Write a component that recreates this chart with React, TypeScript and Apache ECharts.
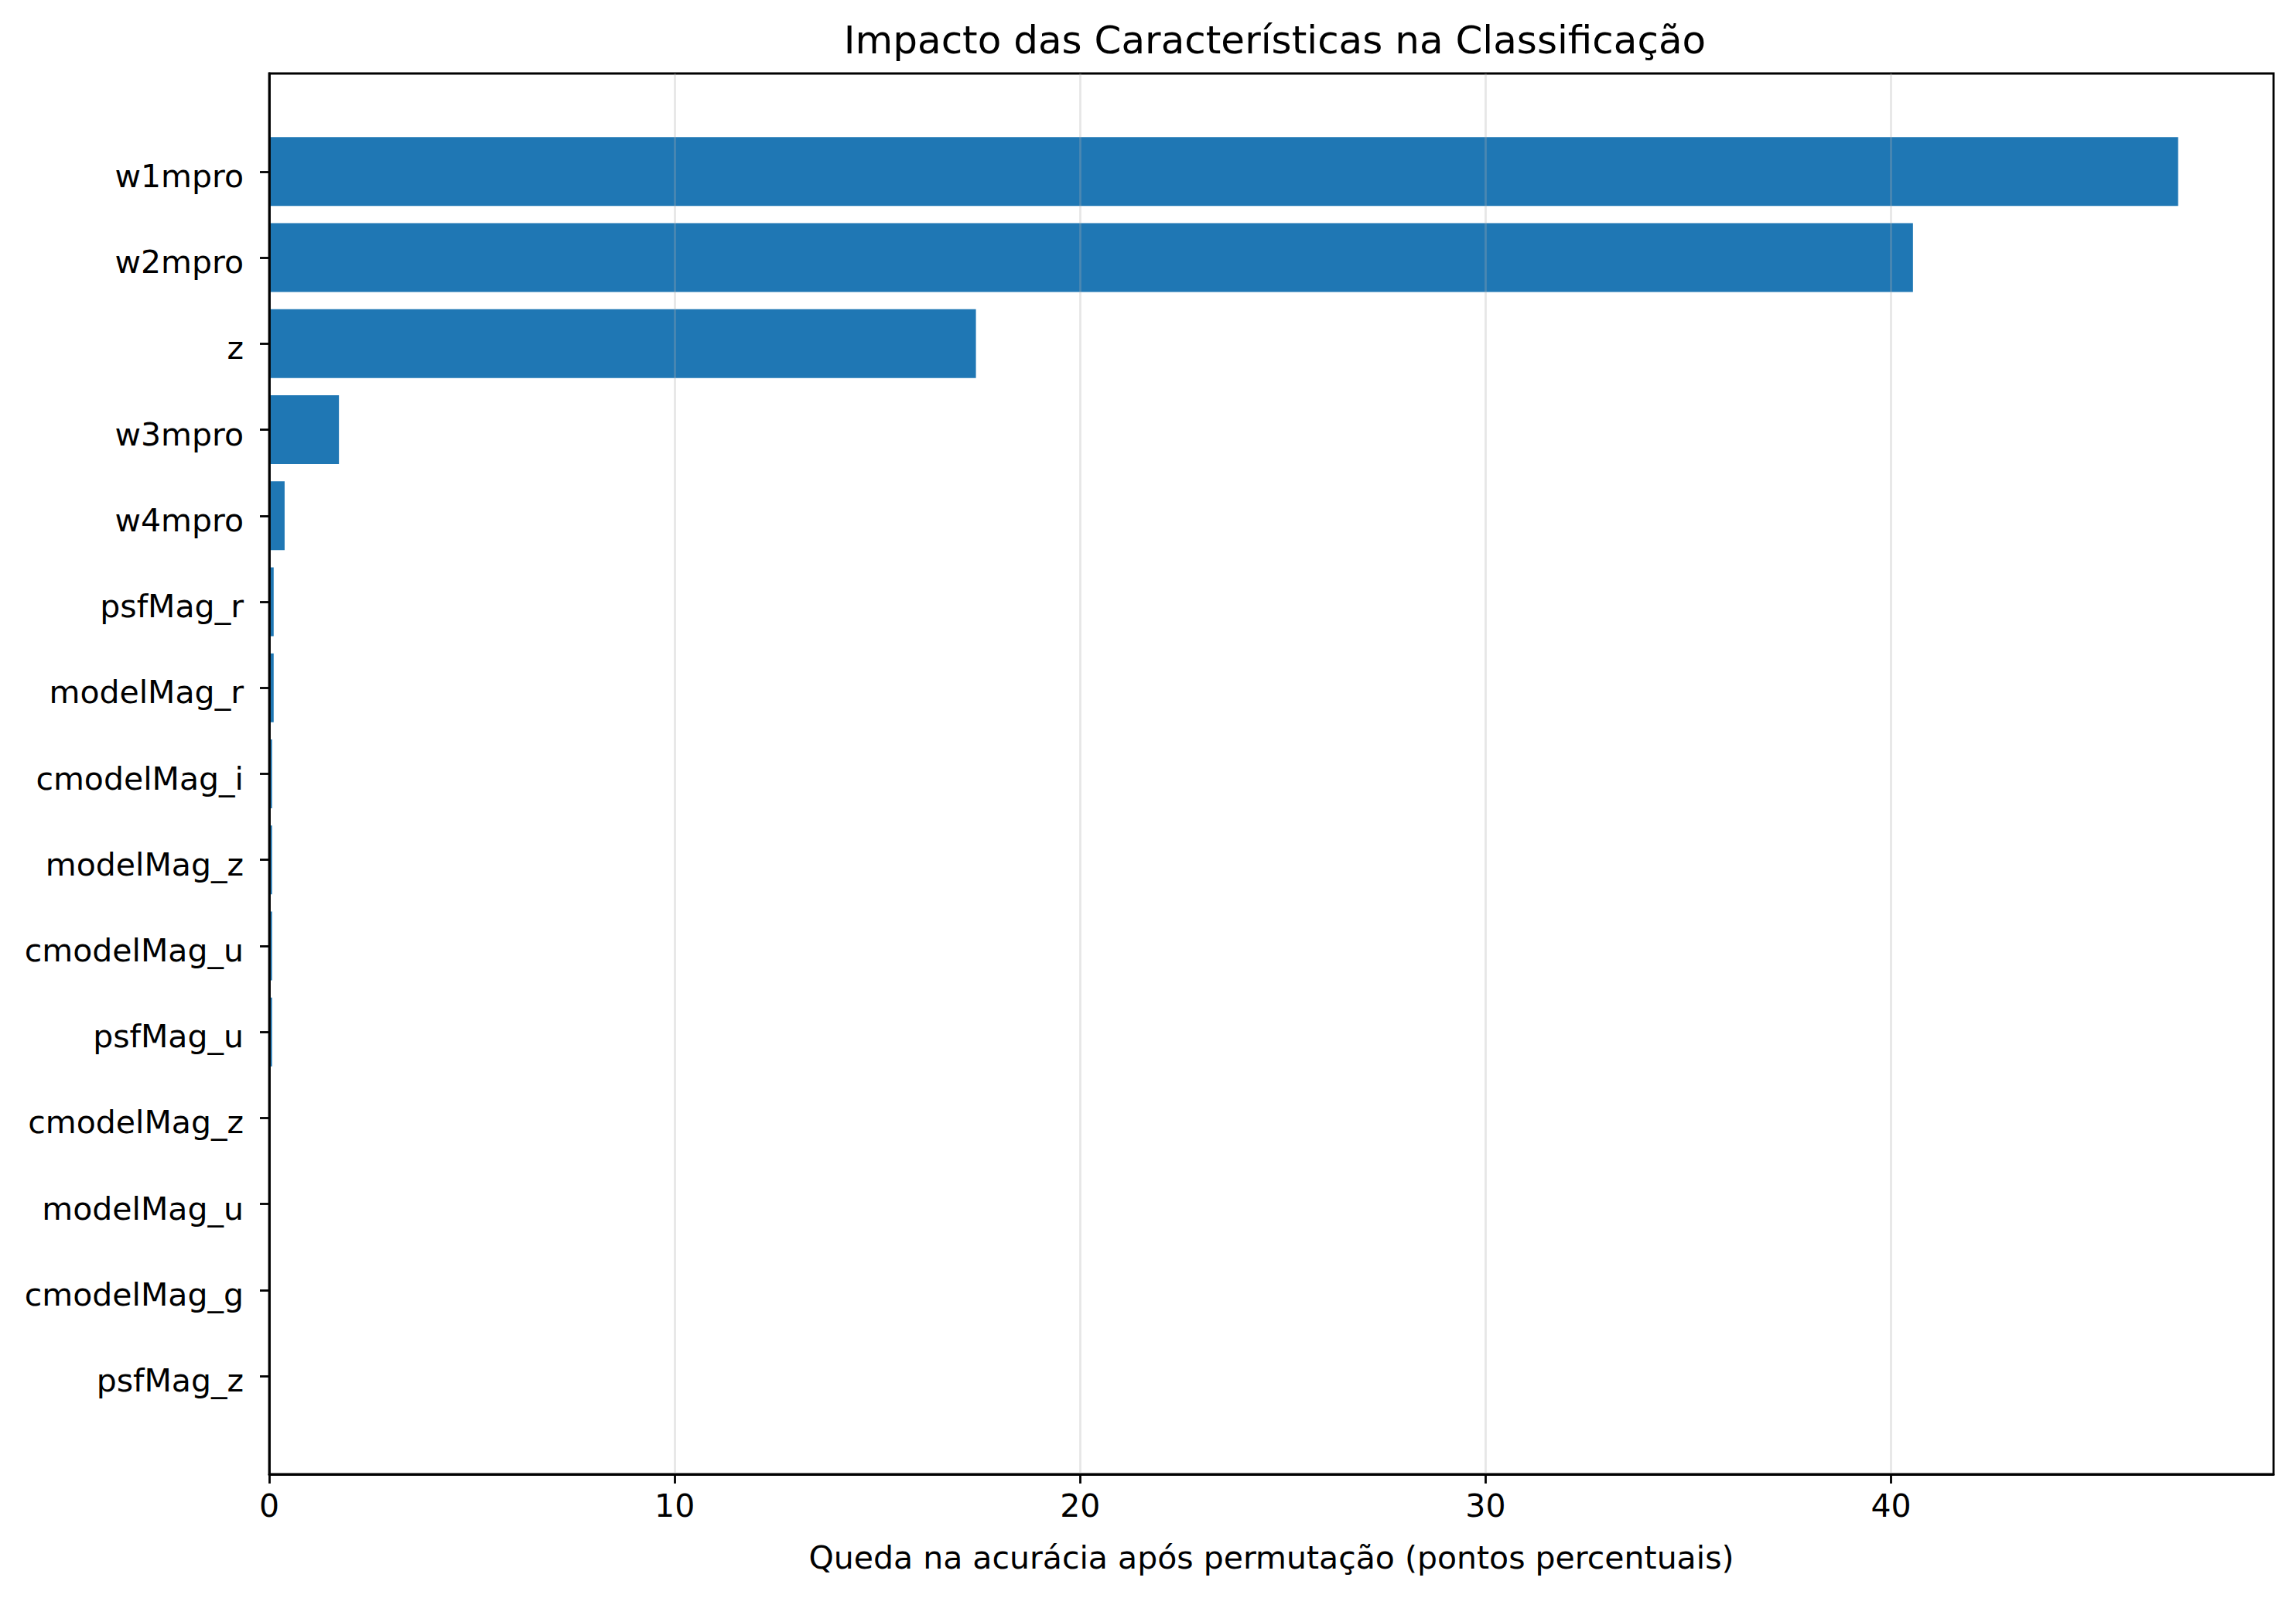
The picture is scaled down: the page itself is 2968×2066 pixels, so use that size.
import React, { useEffect, useRef } from "react";
import * as echarts from "echarts";

const features = [
  "w1mpro",
  "w2mpro",
  "z",
  "w3mpro",
  "w4mpro",
  "psfMag_r",
  "modelMag_r",
  "cmodelMag_i",
  "modelMag_z",
  "cmodelMag_u",
  "psfMag_u",
  "cmodelMag_z",
  "modelMag_u",
  "cmodelMag_g",
  "psfMag_z",
];
const drops = [47.08, 40.54, 17.43, 1.72, 0.38, 0.11, 0.11, 0.07, 0.07, 0.07, 0.07, 0, 0, 0, 0];
const xTicks = [0, 10, 20, 30, 40];
const titleText = "Impacto das Características na Classificação";
const xName = "Queda na acurácia após permutação (pontos percentuais)";

const FONT = "'DejaVu Sans', sans-serif";

export default function App() {
  const ref = useRef<HTMLDivElement>(null);
  useEffect(() => {
    document.body.style.margin = "0";
    const chart = echarts.init(ref.current!, null, { renderer: "svg" });
    const yIdx = features.map((_, i) => i);
    const xMax = Math.max(...drops) * 1.05;
    const option: any = {
      animation: false,
      backgroundColor: "#ffffff",
      title: {
        text: titleText,
        left: 1643,
        top: 22,
        textAlign: "center",
        textStyle: { fontFamily: FONT, fontSize: 50, fontWeight: "normal", color: "#000" },
      },
      grid: {
        left: 348,
        top: 95,
        right: 29,
        bottom: 160,
        show: true,
        borderColor: "#000",
        borderWidth: 2.8,
        backgroundColor: "transparent",
      },
      xAxis: {
        type: "value",
        min: 0,
        max: xMax,
        interval: 10,
        z: 5,
        name: xName,
        nameLocation: "middle",
        nameGap: 87,
        nameTextStyle: { fontFamily: FONT, fontSize: 41, color: "#000" },
        axisLine: { show: true, onZero: false, lineStyle: { color: "#000", width: 2.8 } },
        axisTick: {
          show: true,
          customValues: xTicks,
          length: 12,
          lineStyle: { color: "#000", width: 2.8 },
        },
        axisLabel: {
          customValues: xTicks,
          margin: 20,
          fontFamily: FONT,
          fontSize: 41,
          color: "#000",
        },
        splitLine: { show: true, lineStyle: { color: "rgba(176,176,176,0.3)", width: 2.8 } },
      },
      yAxis: {
        type: "value",
        min: -1.14,
        max: 15.14,
        inverse: true,
        z: 5,
        axisLine: { show: true, onZero: false, lineStyle: { color: "#000", width: 2.8 } },
        axisTick: {
          show: true,
          customValues: yIdx,
          length: 12,
          lineStyle: { color: "#000", width: 2.8 },
        },
        axisLabel: {
          customValues: yIdx,
          margin: 33,
          verticalAlign: "top",
          lineHeight: 12,
          fontFamily: FONT,
          fontSize: 41,
          color: "#000",
          formatter: (v: number) => features[Math.round(v)] ?? "",
        },
        splitLine: { show: false },
      },
      series: [
        {
          type: "custom",
          z: 2,
          encode: { x: 0, y: 1 },
          data: drops.map((v, i) => [v, i]),
          renderItem: (params: any, api: any) => {
            const v = api.value(0);
            const i = api.value(1);
            const start = api.coord([0, i]);
            const end = api.coord([v, i]);
            const h = api.size([0, 0.8])[1];
            return {
              type: "rect",
              shape: { x: start[0], y: start[1] - h / 2, width: end[0] - start[0], height: h },
              style: { fill: "#1f77b4" },
            };
          },
        },
      ],
    };
    chart.setOption(option);
    return () => chart.dispose();
  }, []);
  return <div ref={ref} style={{ width: 2968, height: 2066 }} />;
}
